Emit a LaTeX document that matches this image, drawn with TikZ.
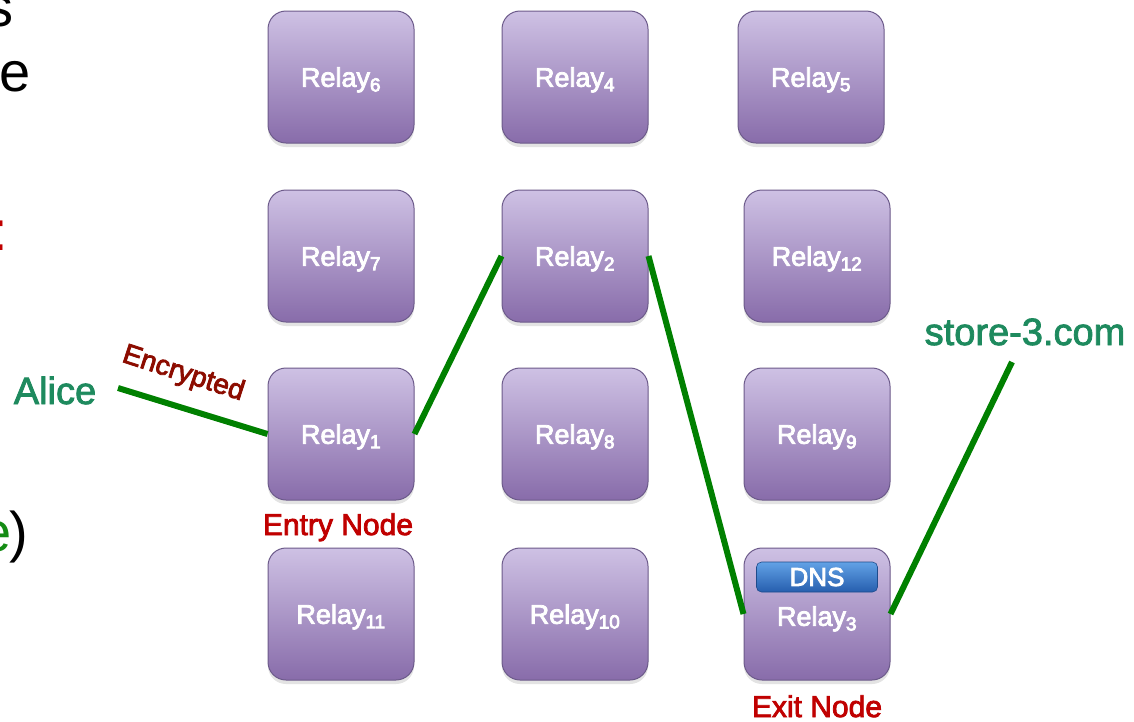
\documentclass[tikz,border=0pt]{standalone}
\usepackage{fontspec}
\setmainfont{Liberation Sans}
\usetikzlibrary{shadows}
\definecolor{relaytop}{RGB}{206,193,228}
\definecolor{relaybot}{RGB}{136,108,170}
\definecolor{relayedge}{RGB}{108,90,138}
\definecolor{pathgreen}{RGB}{0,128,0}
\definecolor{labelgreen}{RGB}{30,138,94}
\definecolor{nodered}{RGB}{192,0,0}
\definecolor{encred}{RGB}{140,12,0}
\definecolor{dnstop}{RGB}{98,162,230}
\definecolor{dnsbot}{RGB}{38,94,174}
\definecolor{fraggreen}{RGB}{20,140,20}
\newcommand{\medtext}[1]{\special{pdf:literal direct 2 Tr 0.8 w}#1\special{pdf:literal direct 0 Tr}}
\newcommand{\relaytxt}[1]{\medtext{Relay\textsubscript{#1}}}
\begin{document}
\begin{tikzpicture}[x=1pt,y=-1pt,
  relaybox/.style={rectangle, rounded corners=18pt, minimum width=146pt,
    minimum height=132pt, inner sep=0pt, top color=relaytop, bottom color=relaybot,
    draw=relayedge, line width=1pt,
    drop shadow={opacity=0.22, shadow xshift=0pt, shadow yshift=-4pt},
    text=white, font=\fontsize{27}{30}\selectfont, text depth=0pt},
  dnsbadge/.style={rectangle, rounded corners=5pt, minimum width=121pt,
    minimum height=30pt, inner sep=0pt, top color=dnstop, bottom color=dnsbot,
    draw=dnsbot!80!black, line width=0.6pt, text=white,
    font=\fontsize{26}{28}\selectfont},
  greenpath/.style={draw=pathgreen, line width=6pt},
  bigtext/.style={inner sep=0pt, font=\fontsize{38}{40}\selectfont, text=labelgreen},
  rolelabel/.style={inner sep=0pt, font=\fontsize{30}{32}\selectfont, text=nodered},
  fragtext/.style={inner sep=0pt, font=\fontsize{56}{60}\selectfont}
]
\useasboundingbox (0,0) rectangle (1134,721);
\clip (0,0) rectangle (1134,721);
\fill[white] (0,0) rectangle (1134,721);

% cut-off text fragments at the left edge
\node[fragtext, anchor=base east] (fragA) at (14,26) {s};
\node[fragtext, anchor=base east] (fragB) at (31,91) {e};
\node[fragtext, anchor=base east, text=nodered] (fragC) at (8,250) {:};
\node[fragtext, anchor=base east] (fragD) at (28,551) {\textcolor{fraggreen}{e}\kern-2pt)};

% relays
\node[relaybox] (r6)  at (341,77)  {\relaytxt{6}};
\node[relaybox] (r4)  at (575,77)  {\relaytxt{4}};
\node[relaybox] (r5)  at (811,77)  {\relaytxt{5}};
\node[relaybox] (r7)  at (341,256) {\relaytxt{7}};
\node[relaybox] (r2)  at (575,256) {\relaytxt{2}};
\node[relaybox] (r12) at (817,256) {\relaytxt{12}};
\node[relaybox] (r1)  at (341,434) {\relaytxt{1}};
\node[relaybox] (r8)  at (575,434) {\relaytxt{8}};
\node[relaybox] (r9)  at (817,434) {\relaytxt{9}};
\node[relaybox] (r11) at (341,614) {\relaytxt{11}};
\node[relaybox] (r10) at (575,614) {\relaytxt{10}};
\node[relaybox] (r3)  at (817,614) {\raisebox{-4pt}{\relaytxt{3}}};
\node[dnsbadge] (dns) at (817,577) {\medtext{DNS}};

% labels
\node[bigtext, anchor=base] (alice) at (55,404) {\medtext{Alice}};
\node[bigtext, anchor=base] (store) at (1025,345) {\medtext{store-3.com}};
\node[rolelabel, anchor=base] (entry) at (338,535) {\medtext{Entry Node}};
\node[rolelabel, anchor=base] (exit) at (817,717) {\medtext{Exit Node}};
\node[inner sep=0pt, anchor=base, rotate=-18, text=encred,
      font=\fontsize{28}{30}\selectfont] (enc) at (181,381) {\medtext{Encrypted}};

% path
\coordinate (aliceend) at (118,388);
\coordinate (storeend) at (1012,362);
\draw[greenpath] (aliceend) -- (r1.west);
\draw[greenpath] (r1.east) -- (r2.west);
\draw[greenpath] (r2.east) -- (r3.west);
\draw[greenpath] (r3.east) -- (storeend);
\end{tikzpicture}
\end{document}
